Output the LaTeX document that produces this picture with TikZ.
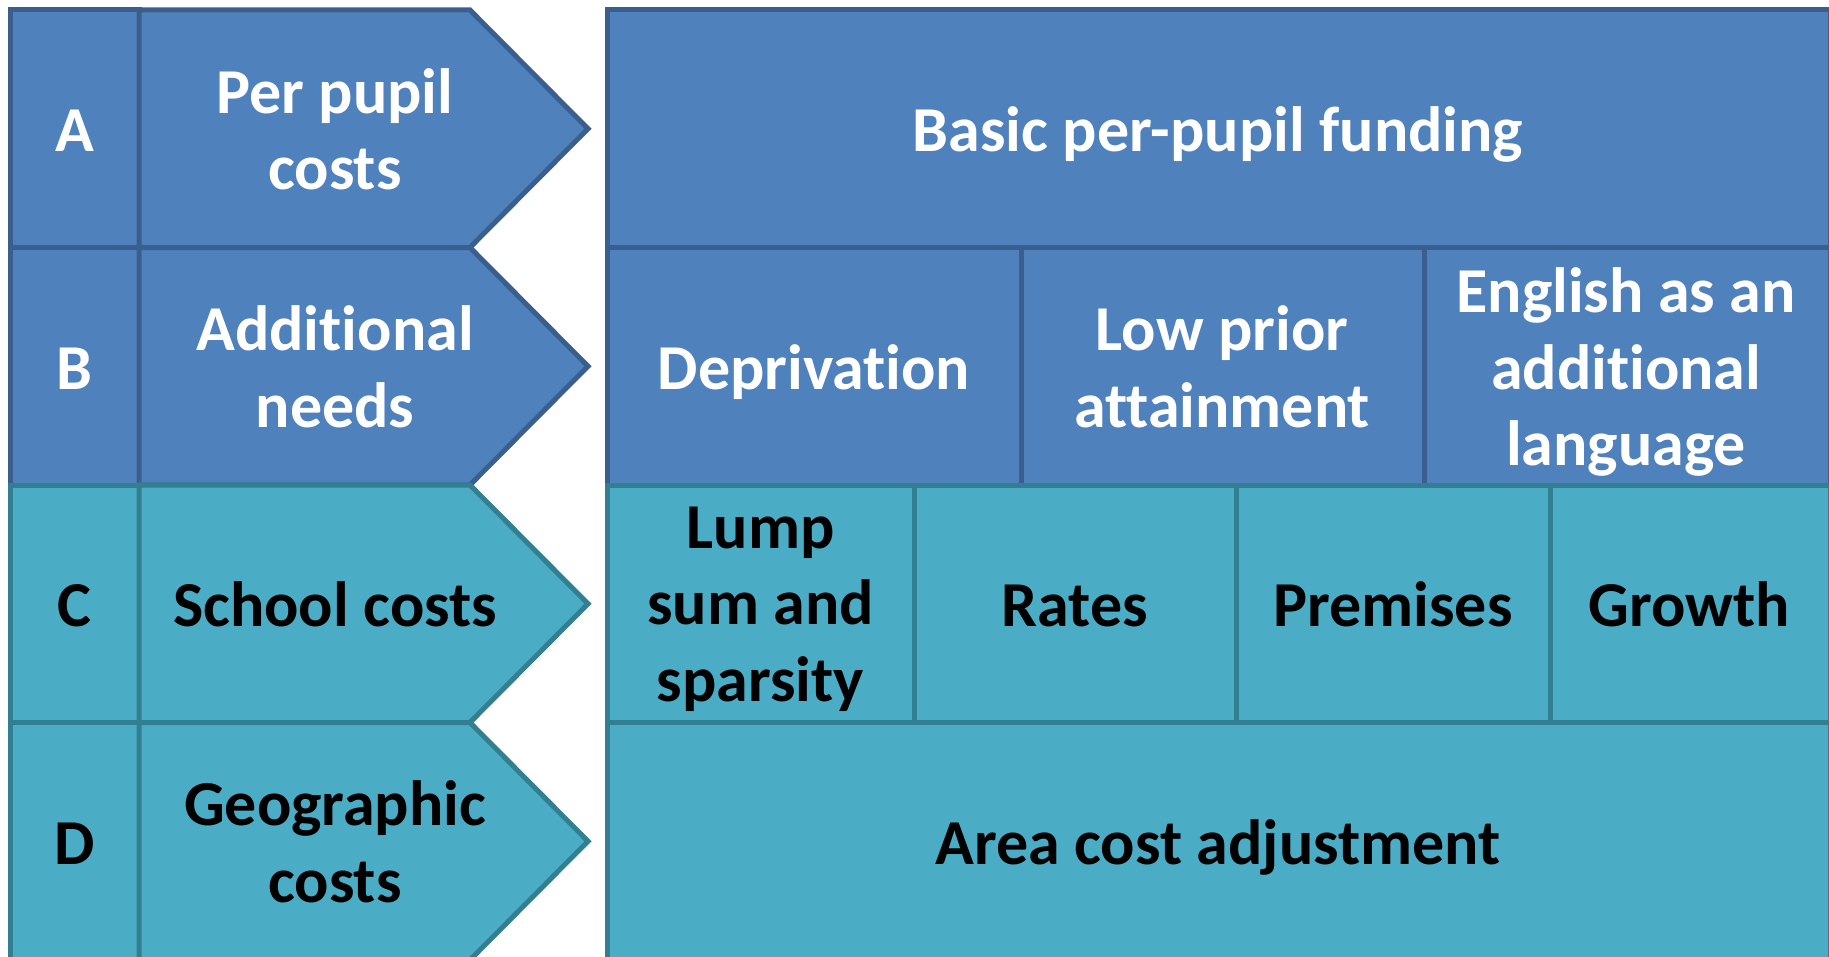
\documentclass[tikz,border=0pt]{standalone}
\usepackage{fontspec}
\setmainfont{Carlito}[RawFeature=-liga]
\usetikzlibrary{positioning}
\definecolor{accblue}{HTML}{4F81BD}
\definecolor{accblueline}{HTML}{3A5F8E}
\definecolor{accteal}{HTML}{4BACC6}
\definecolor{acctealline}{HTML}{327F91}

\begin{document}
\begin{tikzpicture}[x=0.5pt,y=-0.5pt,
  bluebox/.style={fill=accblue,draw=accblueline,line width=2.5pt},
  tealbox/.style={fill=accteal,draw=acctealline,line width=2.5pt},
  lbl/.style={font=\fontsize{32}{38.2}\selectfont\bfseries,align=center,inner sep=0pt,
    execute at begin node=\strut,execute at end node=\strut,yshift=-3.75pt},
  wlbl/.style={lbl,text=white},
  blbl/.style={lbl,text=black},
  multi/.style={yshift=-2.2pt}]
\useasboundingbox (0,0) rectangle (1829,957);

% row A
\draw[bluebox] (10,10) rectangle (139,247.5);
\draw[bluebox] (139,10) -- (470,10) -- (588,128.75) -- (470,247.5) -- (139,247.5) -- cycle;
\draw[bluebox] (607,10) rectangle (1830,247.5);
\node[wlbl] (letA) at (74.5,128.75) {A};
\node[wlbl,multi] (secA) at (335,128.75) {Per pupil\\costs};
\node[wlbl] (basic) at (1218,128.75) {Basic per-pupil funding};

% row B
\draw[bluebox] (10,247.5) rectangle (139,485);
\draw[bluebox] (139,247.5) -- (470,247.5) -- (588,366.25) -- (470,485) -- (139,485) -- cycle;
\draw[bluebox] (607,247.5) rectangle (1021,485);
\draw[bluebox] (1021,247.5) rectangle (1424,485);
\draw[bluebox] (1424,247.5) rectangle (1830,485);
\node[wlbl] (letB) at (74.5,366.25) {B};
\node[wlbl,multi] (secB) at (335,366.25) {Additional\\needs};
\node[wlbl] (depr) at (814,366.25) {Deprivation};
\node[wlbl,multi] (lowp) at (1222,366.25) {Low prior\\attainment};
\node[wlbl,multi] (eal) at (1626,366.25) {English as an\\additional\\language};

% row C
\draw[tealbox] (10,485) rectangle (139,722.5);
\draw[tealbox] (139,485) -- (470,485) -- (588,603.75) -- (470,722.5) -- (139,722.5) -- cycle;
\draw[tealbox] (607,485) rectangle (914,722.5);
\draw[tealbox] (914,485) rectangle (1236,722.5);
\draw[tealbox] (1236,485) rectangle (1550,722.5);
\draw[tealbox] (1550,485) rectangle (1830,722.5);
\node[blbl] (letC) at (74.5,603.75) {C};
\node[blbl] (secC) at (335,603.75) {School costs};
\node[blbl,multi] (lump) at (760.5,603.75) {Lump\\sum and\\sparsity};
\node[blbl] (rates) at (1075,603.75) {Rates};
\node[blbl] (prem) at (1393,603.75) {Premises};
\node[blbl] (grow) at (1689,603.75) {Growth};

% row D
\draw[tealbox] (10,722.5) rectangle (139,960);
\draw[tealbox] (139,722.5) -- (470,722.5) -- (588,841.25) -- (470,960) -- (139,960) -- cycle;
\draw[tealbox] (607,722.5) rectangle (1830,960);
\node[blbl] (letD) at (74.5,841.25) {D};
\node[blbl,multi] (secD) at (335,841.25) {Geographic\\costs};
\node[blbl] (aca) at (1218,841.25) {Area cost adjustment};
\end{tikzpicture}
\end{document}
